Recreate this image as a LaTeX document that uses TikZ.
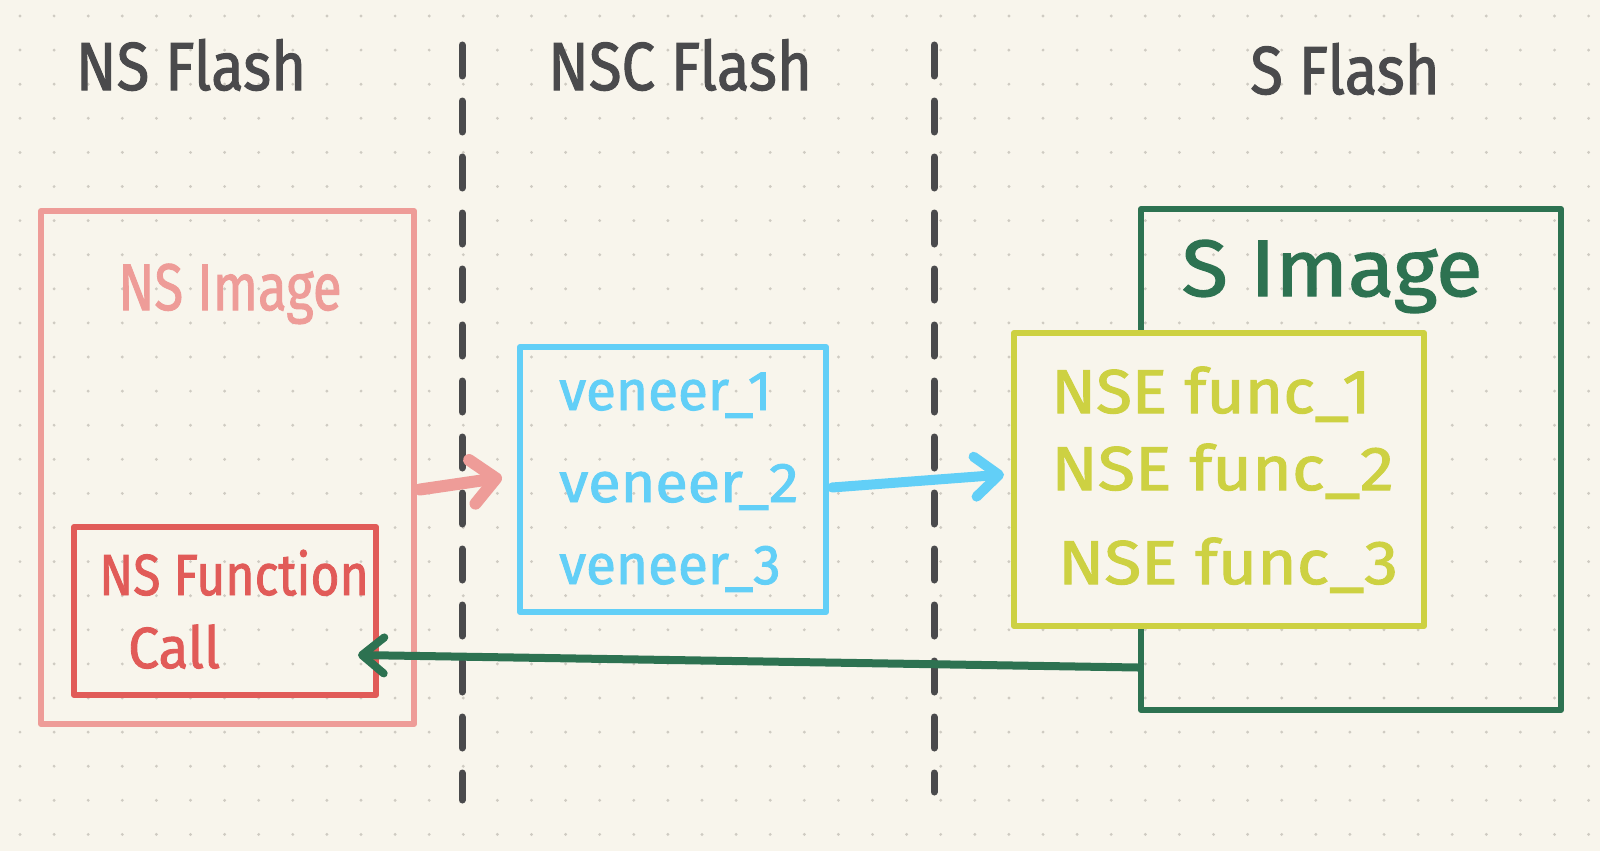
\documentclass[tikz,border=0pt]{standalone}
\usepackage{fontspec}
\setmainfont{Fira Sans}[FakeBold=1.6]
\usetikzlibrary{arrows.meta,calc}
\definecolor{bgc}{HTML}{F8F5EC}
\definecolor{dotc}{HTML}{CFCBC2}
\definecolor{inkc}{HTML}{4A4A4C}
\definecolor{pinkc}{HTML}{EE9C98}
\definecolor{redc}{HTML}{E15B58}
\definecolor{bluec}{HTML}{62CFF7}
\definecolor{yelc}{HTML}{CDD142}
\definecolor{greenc}{HTML}{2D7251}
\tikzset{
  box/.style={draw, line width=6pt, line join=round, line cap=round, inner sep=0pt},
  sep/.style={draw=inkc, line width=7pt, line cap=round, dash pattern=on 31pt off 25pt},
  conn/.style={line width=#1, line cap=round, line join=round},
  head/.style={font=\fontsize{68}{68}\selectfont, text=inkc, anchor=base, inner sep=0pt, xscale=0.88},
  lbl/.style={anchor=base west, inner sep=0pt}
}
\begin{document}
\begin{tikzpicture}[x=1pt,y=-1pt]
\fill[bgc] (0,0) rectangle (1600,851);
\useasboundingbox (0,0) rectangle (1600,851);
\foreach \i in {0,...,46} \foreach \j in {0,...,24}
  \fill[dotc] (20+34.1*\i, 16+34.1*\j) circle[radius=1.6pt];

% separators
\draw[sep] (462,45) -- (462,800);
\draw[sep] (934,45) -- (934,792);

% headings
\node[head] (h1) at (191,90) {NS Flash};
\node[head] (h2) at (680,90) {NSC Flash};
\node[head] (h3) at (1345,94) {S Flash};

% NS side
\node[box, draw=pinkc, minimum width=373pt, minimum height=513pt] (nsimg) at (227.5,467.5) {};
\node[anchor=base, inner sep=0pt, xscale=0.8, text=pinkc, font=\fontsize{66}{66}\selectfont] (nsimgt) at (230,310) {NS Image};
\node[box, draw=redc, minimum width=302pt, minimum height=168pt] (nsfc) at (225,611) {};
\node[lbl, xscale=0.86, text=redc, font=\fontsize{58}{58}\selectfont] (nsfc1) at (99,595) {NS Function};
\node[lbl, xscale=0.95, text=redc, font=\fontsize{58}{58}\selectfont] (nsfc2) at (128,668) {Call};

% NSC
\node[box, draw=bluec, minimum width=306pt, minimum height=265pt] (veneer) at (673,479.5) {};
\node[lbl, xscale=0.98, text=bluec, font=\fontsize{56}{56}\selectfont] (v1) at (559,410) {veneer\_1};
\node[lbl, xscale=1.06, text=bluec, font=\fontsize{56}{56}\selectfont] (v2) at (559,502) {veneer\_2};
\node[lbl, xscale=0.98, text=bluec, font=\fontsize{56}{56}\selectfont] (v3) at (559,584) {veneer\_3};

% S side
\node[box, draw=greenc, minimum width=420pt, minimum height=501pt] (simg) at (1351,459.5) {};
\node[anchor=base, inner sep=0pt, xscale=1.06, text=greenc, font=\fontsize{80}{80}\selectfont] (simgt) at (1332,296) {S Image};
\node[box, draw=yelc, fill=bgc, minimum width=410pt, minimum height=293pt] (nse) at (1219,479.5) {};
\node[lbl, xscale=1.06, text=yelc, font=\fontsize{62}{62}\selectfont] (f1) at (1051,413) {NSE func\_1};
\node[lbl, xscale=1.1, text=yelc, font=\fontsize{62}{62}\selectfont] (f2) at (1051,490) {NSE func\_2};
\node[lbl, xscale=1.09, text=yelc, font=\fontsize{62}{62}\selectfont] (f3) at (1058,584) {NSE func\_3};

% connectors
\coordinate (gstart) at ($(simg.west)+(0,208)$);
\draw[conn=12pt, draw=pinkc, -{Straight Barb[length=24pt,width=44pt,round]}] ($(nsimg.east)+(3,22)$) -- ($(veneer.west)+(-15,-2)$);
\draw[conn=10pt, draw=bluec, -{Straight Barb[length=24pt,width=40pt,round]}] ($(veneer.east)+(3,8)$) -- ($(nse.west)+(-7,-5)$);
\draw[conn=8pt, draw=greenc, -{Straight Barb[length=22pt,width=36pt,round]}] (gstart) -- ($(nsfc.east)+(-21,44)$);
\end{tikzpicture}
\end{document}
